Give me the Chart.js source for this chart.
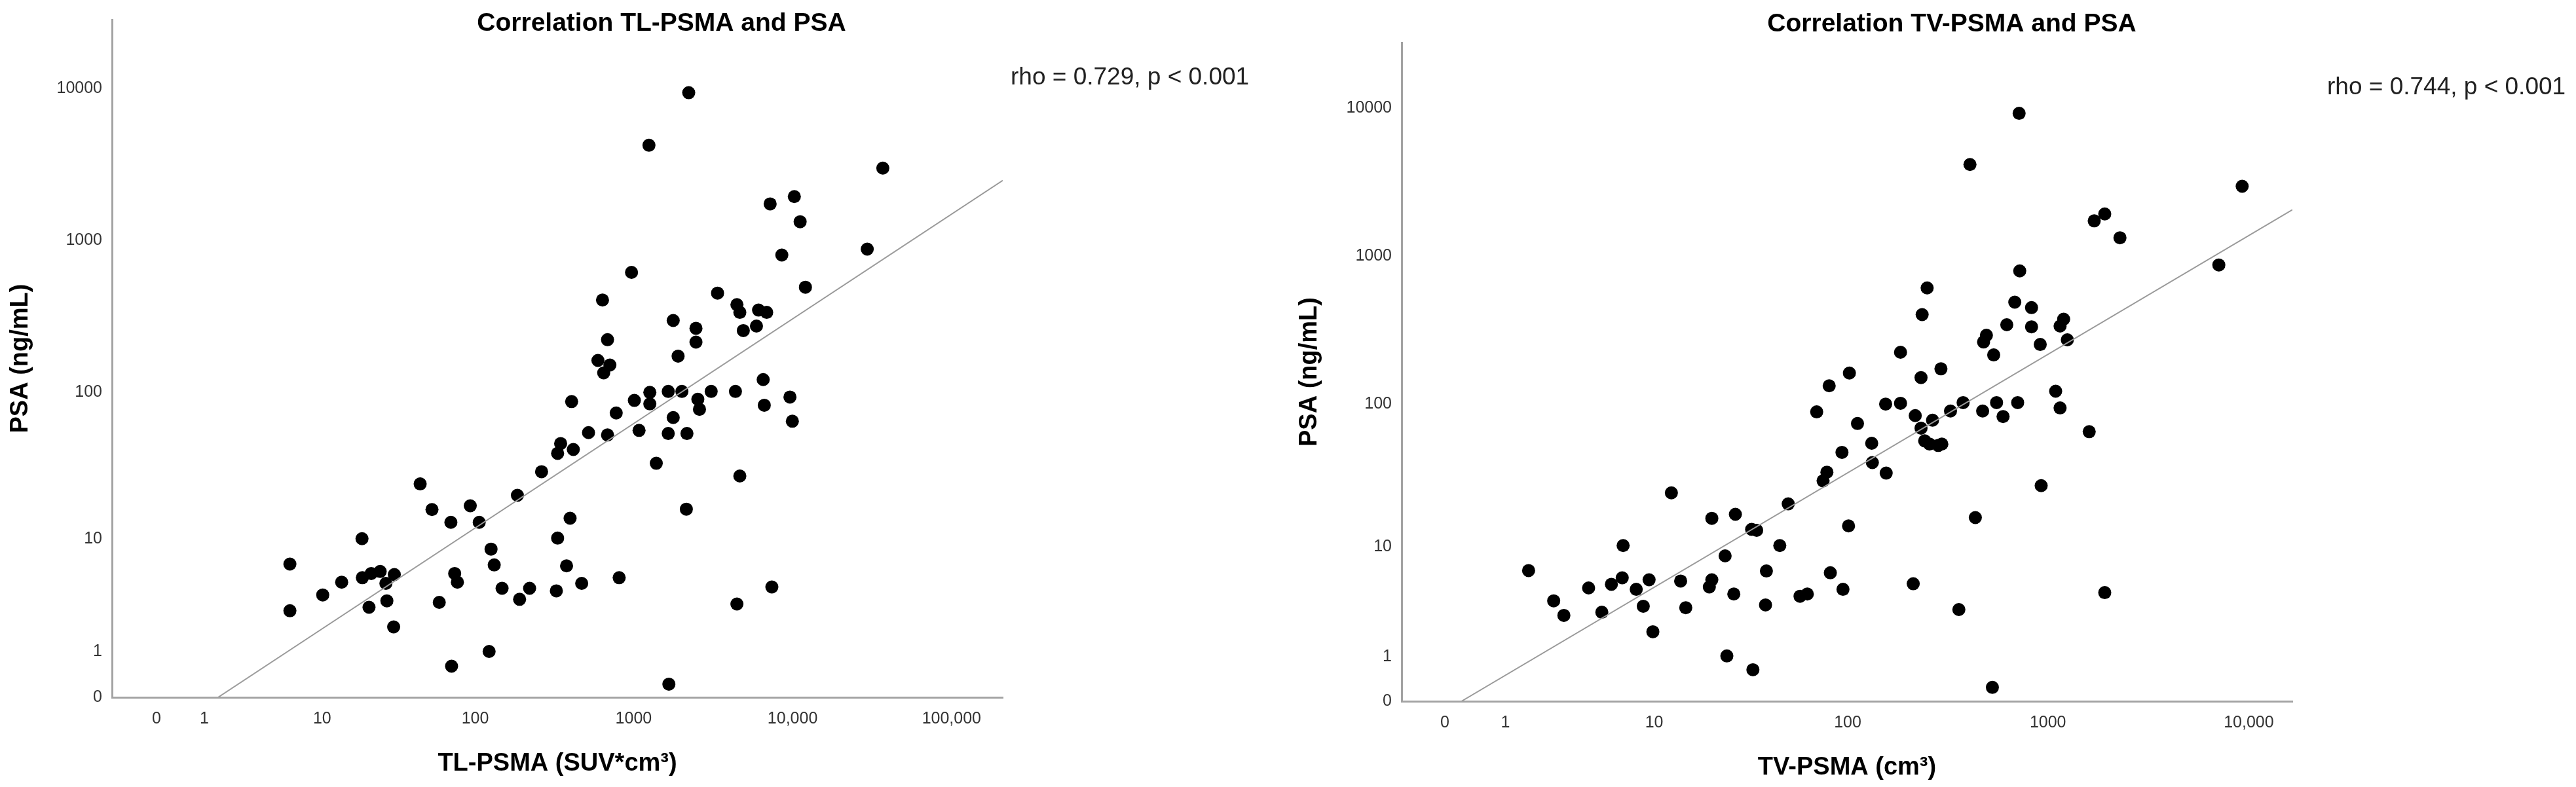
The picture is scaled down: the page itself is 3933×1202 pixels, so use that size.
<!DOCTYPE html>
<html>
<head>
<meta charset="utf-8">
<script src="https://cdn.jsdelivr.net/npm/chart.js@4.4.1/dist/chart.umd.min.js"></script>
<style>
  html, body { margin: 0; padding: 0; background: #fff; }
  #wrap { position: relative; width: 3933px; height: 1202px; }
  canvas { position: absolute; top: 0; }
</style>
</head>
<body>
<div id="wrap">
  <canvas id="tl-chart" width="1966" height="1202" style="left:0"></canvas>
  <canvas id="tv-chart" width="1967" height="1202" style="left:1966px"></canvas>
</div>
<script>
// Values (raw units, axes are log10(value + 1))

// TL-PSMA (SUV*cm3) vs PSA (ng/mL)
const tlPsma = [
    5.9, 5.9, 10.1, 13.6, 18.6, 18.7, 21.4, 24.5, 20.7, 26.7,
    27.1, 30.3, 30, 44.5, 53, 59, 70, 74, 77, 70.7,
    93, 106, 122.5, 126, 132, 148, 185, 191, 221, 263,
    332, 326, 332, 347, 378, 398, 407, 417, 471, 520,
    596, 637, 648, 685, 709, 685, 777, 811, 970, 1011,
    1082, 1249, 1265, 1265, 1389, 1652, 1652, 1667, 1775, 1775,
    1905, 2013, 2147, 2166, 2222, 2468, 2468, 2536, 2597, 3077,
    3374, 4373, 4467, 4660, 4900, 4660, 4467, 5929, 6110, 6875,
    6535, 6640, 7228, 7410, 8560, 9630, 9970, 10260, 11160, 12050,
    29500, 36960
];
const tlPsa = [
    6.5, 2.7, 3.7, 4.7, 10.0, 5.1, 5.5, 5.7, 2.9, 4.6,
    3.3, 5.4, 1.9, 24.2, 16.1, 3.2, 13.1, 5.5, 4.7, 0.6,
    17.1, 13.1, 1.0, 8.4, 6.4, 4.2, 20.2, 3.4, 4.2, 29.3,
    10.1, 4.0, 39, 45.4, 6.3, 14, 86.5, 41.4, 4.6, 53.7,
    162, 405, 134, 222, 151, 51.8, 72.6, 5.1, 616, 88,
    55.6, 4217, 99.5, 83.5, 33.4, 101, 53, 0.22, 297, 67.7,
    173, 101, 16.2, 53, 9333, 264, 214, 89.6, 76.8, 101,
    450, 101, 378, 336, 255, 27.4, 3.1, 273, 348, 336,
    121, 81.8, 1737, 4.3, 801, 92.7, 64, 1940, 1326, 492,
    876, 2985
];
const tlFitX = [1.44, 209900];
const tlFitY = [0, 2477];

// TV-PSMA (cm3) vs PSA (ng/mL)
const tvPsma = [
    1.61, 2.48, 2.91, 4.19, 5.04, 5.74, 6.63, 6.71, 7.96, 8.71,
    9.38, 9.84, 12.4, 13.9, 14.8, 19.7, 20.3, 20.3, 23.8, 24.3,
    26.4, 26.9, 32.6, 34.6, 33.1, 38.4, 38.8, 45.4, 50.1, 57.5,
    62.6, 69.8, 75.2, 78.6, 80.7, 81.8, 93.6, 94.7, 101, 102,
    112, 132, 133, 155, 156, 184, 184, 213, 218, 233,
    233, 236, 243, 250, 257, 266, 284, 296, 293, 327,
    360, 378, 409, 435, 473, 478, 494, 529, 537, 555,
    598, 624, 684, 707, 719, 724, 829, 829, 916, 926,
    1093, 1150, 1150, 1198, 1250, 1606, 1701, 1919, 1919, 2285,
    7094, 9270
];
const tvPsa = [
    6.6, 3.75, 2.79, 4.8, 2.98, 5.14, 5.79, 10.2, 4.68, 3.37,
    5.59, 1.94, 24.4, 5.46, 3.27, 4.89, 5.59, 16.1, 8.55, 1.02,
    4.28, 17.2, 13.4, 13.2, 0.63, 3.46, 6.55, 10.2, 20.4, 4.1,
    4.28, 88.2, 29.6, 34.0, 132.7, 6.34, 46.6, 4.68, 14.2, 162,
    73.5, 53.8, 39.6, 99.7, 33.5, 224, 101, 5.19, 83.2, 151,
    68.3, 403, 55.9, 610, 53.1, 77.4, 52, 53.1, 173, 89.4,
    3.15, 102, 4150, 16.3, 89.4, 263, 292, 0.24, 215, 102,
    82, 344, 489, 102, 9180, 795, 449, 333, 253, 27.4,
    122, 93.8, 337, 375, 272, 64.6, 1729, 1926, 4.4, 1330,
    872, 2957
];
const tvFitX = [0.21, 16480];
const tvFitY = [0, 2055];

// Tick values and labels
const tlTickValues = [0, 1, 10, 100, 1000, 10000, 100000];
const tlTickLabels = ['0', '1', '10', '100', '1000', '10,000', '100,000'];
const tvTickValues = [0, 1, 10, 100, 1000, 10000];
const tvTickLabels = ['0', '1', '10', '100', '1000', '10,000'];
const psaTickValues = [0, 1, 10, 100, 1000, 10000];
const psaTickLabels = ['0', '1', '10', '100', '1000', '10000'];

const FONT = '"Liberation Sans", Arial, Helvetica, sans-serif';

// log10(v + 1) transform used by both axes
const toLog = v => Math.log10(v + 1);

// Draws titles, rho annotation and axis titles
const panelText = {
    id: 'panelText',
    afterDraw(chart, args, opts) {
        const { ctx, chartArea } = chart;
        ctx.save();
        ctx.textAlign = 'center';
        ctx.textBaseline = 'middle';

        ctx.fillStyle = '#000';
        ctx.font = `bold 39px ${FONT}`;
        ctx.fillText(opts.title, opts.titleX, opts.titleY);

        ctx.font = `bold 38px ${FONT}`;
        ctx.fillText(opts.xTitle, (chartArea.left + chartArea.right) / 2, chartArea.bottom + opts.xTitleGap);

        ctx.save();
        ctx.translate(opts.yTitleX, (chartArea.top + chartArea.bottom) / 2);
        ctx.rotate(-Math.PI / 2);
        ctx.fillText(opts.yTitle, 0, 0);
        ctx.restore();

        ctx.fillStyle = '#222';
        ctx.textAlign = 'left';
        ctx.font = `37px ${FONT}`;
        ctx.fillText(opts.rho, opts.rhoX, opts.rhoY);
        ctx.restore();
    }
};

function createPanel(canvasId, xs, ys, fitX, fitY, xTicks, xLabels, cfg) {
    const canvas = document.getElementById(canvasId);
    const ctx = canvas.getContext('2d');

    const points = xs.map((x, i) => ({ x: toLog(x), y: toLog(ys[i]) }));
    const fitLine = fitX.map((x, i) => ({ x: toLog(x), y: toLog(fitY[i]) }));

    return new Chart(ctx, {
        type: 'scatter',
        data: {
            datasets: [
                {
                    label: 'fit',
                    data: fitLine,
                    showLine: true,
                    borderColor: '#9a9a9a',
                    borderWidth: 2,
                    pointRadius: 0,
                    fill: false
                },
                {
                    label: 'patients',
                    data: points,
                    backgroundColor: '#000',
                    borderColor: '#000',
                    borderWidth: 0,
                    pointRadius: 10,
                    pointHoverRadius: 10
                }
            ]
        },
        options: {
            responsive: false,
            animation: false,
            devicePixelRatio: 1,
            layout: { padding: { left: 0, bottom: 0, top: cfg.top, right: cfg.right } },
            plugins: {
                legend: { display: false },
                tooltip: { enabled: false },
                panelText: cfg.text
            },
            scales: {
                x: {
                    type: 'linear',
                    min: cfg.xMin,
                    max: cfg.xMax,
                    // fixed heights/widths so the plot area lands where it is in the figure
                    afterFit: s => { s.height = cfg.xAxisHeight; },
                    afterBuildTicks: s => { s.ticks = xTicks.map(v => ({ value: toLog(v) })); },
                    ticks: {
                        callback: (val, i) => xLabels[i],
                        autoSkip: false,
                        maxRotation: 0,
                        padding: 18,
                        color: '#333',
                        font: { family: FONT, size: 25 }
                    },
                    grid: { display: true, drawOnChartArea: false, drawTicks: false },
                    border: { display: true, color: '#a3a3a3', width: 3 }
                },
                y: {
                    type: 'linear',
                    min: 0,
                    max: cfg.yMax,
                    afterFit: s => { s.width = cfg.yAxisWidth; },
                    afterBuildTicks: s => { s.ticks = psaTickValues.map(v => ({ value: toLog(v) })); },
                    ticks: {
                        callback: (val, i) => psaTickLabels[i],
                        autoSkip: false,
                        padding: 15,
                        color: '#333',
                        font: { family: FONT, size: 25 }
                    },
                    grid: { display: true, drawOnChartArea: false, drawTicks: false },
                    border: { display: true, color: '#a3a3a3', width: 3 }
                }
            }
        },
        plugins: [panelText]
    });
}

createPanel('tl-chart', tlPsma, tlPsa, tlFitX, tlFitY, tlTickValues, tlTickLabels, {
    top: 25, right: 435, yAxisWidth: 171, xAxisHeight: 137,
    xMin: -0.28, xMax: 5.322, yMax: 4.45,
    text: {
        title: 'Correlation TL-PSMA and PSA', titleX: 1010, titleY: 36,
        rho: 'rho = 0.729, p < 0.001', rhoX: 1543, rhoY: 119,
        xTitle: 'TL-PSMA (SUV*cm³)', xTitleGap: 102,
        yTitle: 'PSA (ng/mL)', yTitleX: 32
    }
});

createPanel('tv-chart', tvPsma, tvPsa, tvFitX, tvFitY, tvTickValues, tvTickLabels, {
    top: 65, right: 433, yAxisWidth: 174, xAxisHeight: 131,
    xMin: -0.215, xMax: 4.217, yMax: 4.44,
    text: {
        title: 'Correlation TV-PSMA and PSA', titleX: 1014, titleY: 37,
        rho: 'rho = 0.744, p < 0.001', rhoX: 1587, rhoY: 134,
        xTitle: 'TV-PSMA (cm³)', xTitleGap: 102,
        yTitle: 'PSA (ng/mL)', yTitleX: 34
    }
});
</script>
</body>
</html>
